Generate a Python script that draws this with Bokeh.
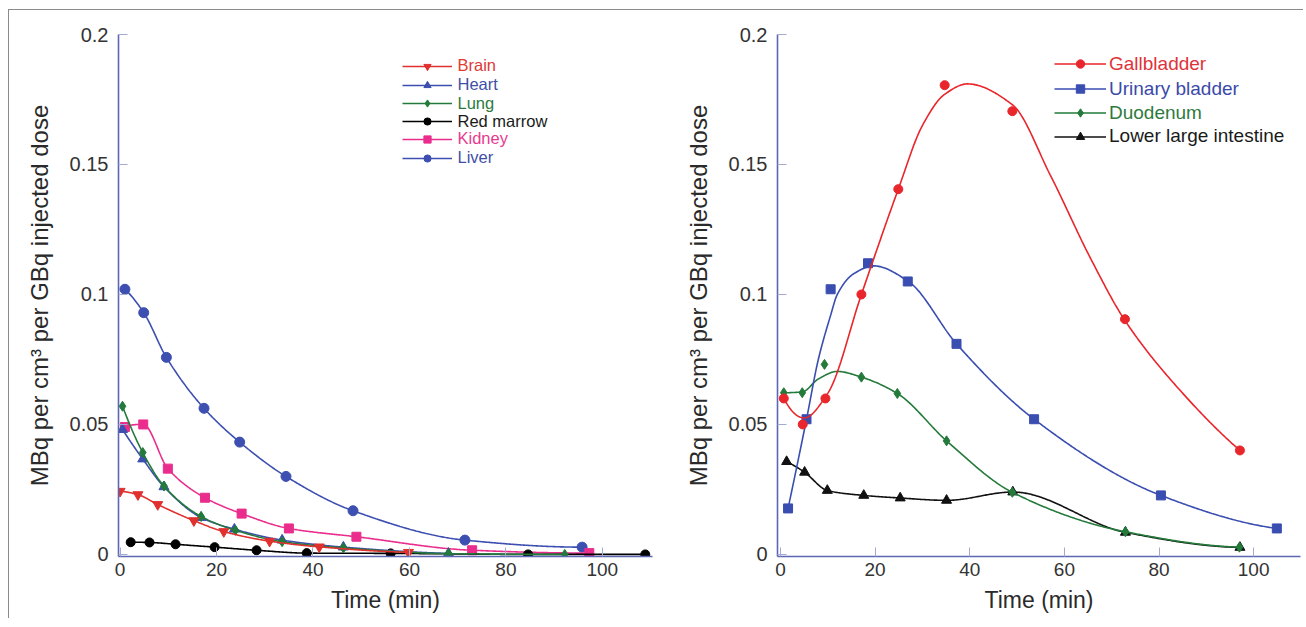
import numpy as np
from bokeh.plotting import figure
from bokeh.models import Range1d, FixedTicker, Legend, LegendItem
from bokeh.layouts import row
from bokeh.embed import file_html
from bokeh.resources import INLINE

# ---------------- data: left panel ----------------
brain_t = [0.0, 3.7, 7.8, 15.3, 21.5, 31.0, 41.3, 59.8]
brain_v = [0.0243, 0.0230, 0.0192, 0.0130, 0.0088, 0.0051, 0.0029, 0.0008]
heart_t = [0.5, 4.7, 9.1, 16.8, 23.7, 33.6, 46.3, 68.1]
heart_v = [0.0480, 0.0367, 0.0260, 0.0142, 0.0097, 0.0055, 0.0028, 0.0004]
lung_t = [0.5, 4.7, 9.1, 16.8, 23.9, 33.6, 46.3, 68.1, 92.2]
lung_v = [0.0570, 0.0392, 0.0263, 0.0146, 0.0093, 0.0049, 0.0025, 0.0003, 0.0]
marrow_t = [2.2, 6.1, 11.5, 19.6, 28.3, 38.7, 56.1, 84.6, 108.9]
marrow_v = [0.0047, 0.0046, 0.0039, 0.0028, 0.0016, 0.0005, 0.0004, 0.0, 0.0]
kidney_t = [1.0, 4.8, 9.9, 17.6, 25.2, 35.0, 49.0, 73.0, 97.3]
kidney_v = [0.0490, 0.0500, 0.0330, 0.0218, 0.0157, 0.0100, 0.0068, 0.0016, 0.0005]
liver_t = [1.0, 4.9, 9.6, 17.4, 24.8, 34.4, 48.3, 71.5, 95.8]
liver_v = [0.1020, 0.0930, 0.0758, 0.0562, 0.0432, 0.0300, 0.0168, 0.0055, 0.0028]

# ---------------- data: right panel ----------------
gall_t = [0.7, 4.7, 9.5, 17.1, 24.9, 34.7, 49.0, 72.8, 97.1]
gall_v = [0.060, 0.050, 0.060, 0.100, 0.1405, 0.1805, 0.1705, 0.0905, 0.040]
urin_t = [1.6, 5.5, 10.6, 18.5, 26.9, 37.2, 53.6, 80.4, 104.9]
urin_v = [0.0177, 0.052, 0.102, 0.112, 0.105, 0.081, 0.052, 0.0227, 0.010]
duod_t = [0.7, 4.6, 9.3, 17.1, 24.7, 35.1, 49.0, 72.9, 97.0]
duod_v = [0.0622, 0.0622, 0.0731, 0.0682, 0.0619, 0.0437, 0.0239, 0.0087, 0.0028]
lli_t = [1.3, 5.1, 9.9, 17.6, 25.3, 35.1, 49.1, 72.9, 97.1]
lli_v = [0.0357, 0.0316, 0.0246, 0.0227, 0.0217, 0.0208, 0.0240, 0.0085, 0.0027]

# fitted (smoothed) curves
gall_fit_t = [0.7, 5.0, 10.0, 17.1, 24.9, 30.0, 34.7, 39.5, 49.0, 57.0, 65.5, 72.8, 85.0, 97.1]
gall_fit_v = [0.060, 0.0525, 0.062, 0.100, 0.1405, 0.165, 0.177, 0.181, 0.173, 0.146, 0.114, 0.090, 0.062, 0.040]
urin_fit_t = [1.6, 5.5, 8.0, 10.6, 12.0, 15.5, 19.7, 26.9, 37.2, 53.6, 80.4, 104.9]
urin_fit_v = [0.0177, 0.052, 0.075, 0.092, 0.100, 0.108, 0.111, 0.1052, 0.081, 0.052, 0.0227, 0.010]
duod_fit_t = [0.7, 4.6, 8.0, 12.0, 17.1, 24.7, 35.1, 49.0, 72.9, 97.0]
duod_fit_v = [0.0622, 0.0625, 0.0675, 0.0704, 0.0682, 0.0619, 0.0437, 0.0239, 0.0087, 0.0028]

x_ticks = [0, 20, 40, 60, 80, 100]
y_ticks = [0, 0.05, 0.1, 0.15, 0.2]
y_tick_labels = ["0", "0.05", "0.1", "0.15", "0.2"]

FONT = "Liberation Sans"


def pchip(xs, ys, n=400):
    x = np.asarray(xs, float)
    y = np.asarray(ys, float)
    h = np.diff(x)
    d = np.diff(y) / h
    m = np.zeros_like(x)
    for k in range(1, len(x) - 1):
        if d[k - 1] * d[k] > 0:
            w1 = 2 * h[k] + h[k - 1]
            w2 = h[k] + 2 * h[k - 1]
            m[k] = (w1 + w2) / (w1 / d[k - 1] + w2 / d[k])

    def end(h0, h1, d0, d1):
        s = ((2 * h0 + h1) * d0 - h0 * d1) / (h0 + h1)
        if np.sign(s) != np.sign(d0):
            s = 0.0
        elif np.sign(d0) != np.sign(d1) and abs(s) > 3 * abs(d0):
            s = 3 * d0
        return s

    m[0] = end(h[0], h[1], d[0], d[1])
    m[-1] = end(h[-1], h[-2], d[-1], d[-2])
    xx = np.linspace(x[0], x[-1], n)
    idx = np.clip(np.searchsorted(x, xx) - 1, 0, len(x) - 2)
    t = (xx - x[idx]) / h[idx]
    h00 = 2 * t**3 - 3 * t**2 + 1
    h10 = t**3 - 2 * t**2 + t
    h01 = -2 * t**3 + 3 * t**2
    h11 = t**3 - t**2
    yy = h00 * y[idx] + h10 * h[idx] * m[idx] + h01 * y[idx + 1] + h11 * h[idx] * m[idx + 1]
    return xx, yy


def make_fig(xr, frame_w, bl, br):
    p = figure(frame_width=frame_w, frame_height=522,
               x_range=Range1d(*xr), y_range=Range1d(-0.0008, 0.2),
               output_backend="svg", toolbar_location=None,
               min_border_left=bl, min_border_right=br,
               min_border_top=24, min_border_bottom=62)
    p.outline_line_color = None
    p.grid.visible = False
    p.background_fill_color = "white"
    p.border_fill_color = "white"
    for ax in (p.xaxis[0], p.yaxis[0]):
        ax.axis_line_color = "#5c66b5"
        ax.axis_line_width = 1.6
        ax.major_tick_in = 9
        ax.major_tick_out = 0
        ax.major_tick_line_color = "#a3a9d0"
        ax.minor_tick_line_color = None
        ax.major_label_text_font = FONT
        ax.major_label_text_color = "#333333"
        ax.axis_label_text_font = FONT
        ax.axis_label_text_font_style = "normal"
        ax.axis_label_text_color = "#2a2a2a"
    p.xaxis.ticker = FixedTicker(ticks=x_ticks)
    p.yaxis.ticker = FixedTicker(ticks=y_ticks)
    p.yaxis.major_label_overrides = {v: s for v, s in zip(y_ticks, y_tick_labels)}
    p.xaxis.major_label_text_font_size = "19px"
    p.yaxis.major_label_text_font_size = "20px"
    p.xaxis.major_label_standoff = 6
    p.yaxis.major_label_standoff = 10
    p.xaxis.axis_label = "Time (min)"
    p.yaxis.axis_label = "MBq per cm³ per GBq injected dose"
    p.xaxis.axis_label_text_font_size = "23px"
    p.yaxis.axis_label_text_font_size = "24px"
    p.xaxis.axis_label_standoff = 8
    p.yaxis.axis_label_standoff = 14
    return p


def add_series(p, t, v, ct, cv, color, marker, size, label, text_color, loc, gw,
               standoff, fsize, gh):
    xx, yy = pchip(ct, cv)
    lr = p.line(xx, yy, line_color=color, line_width=1.6)
    sr = p.scatter(t, v, marker=marker, size=size, fill_color=color, line_color=color)
    leg = Legend(items=[LegendItem(label=label, renderers=[lr, sr])],
                 location=loc, orientation="vertical",
                 border_line_color=None, background_fill_alpha=0,
                 padding=0, margin=0, spacing=0,
                 glyph_width=gw, glyph_height=gh, label_height=gh,
                 label_standoff=standoff,
                 label_text_font=FONT, label_text_font_size=fsize,
                 label_text_color=text_color)
    p.add_layout(leg)
    return lr, sr


FB = 556  # frame bottom (page px)

# ---------------- left figure ----------------
p1 = make_fig((-0.33, 110.4), 534, 109, 10)
left_rows = [66, 85, 103.7, 121.7, 139.3, 158.3]
lx = 283.5
left_specs = [
    (liver_t, liver_v, "#3d4fb0", "circle", 10, "Liver", "#3f4fa8", 5),
    (kidney_t, kidney_v, "#ea2d8c", "square", 9, "Kidney", "#e83a90", 4),
    (marrow_t, marrow_v, "#000000", "circle", 9, "Red marrow", "#1a1a1a", 3),
    (heart_t, heart_v, "#3d4fae", "triangle", 10, "Heart", "#3f4fa8", 1),
    (lung_t, lung_v, "#237a3a", "diamond", 10, "Lung", "#2e7a3e", 2),
    (brain_t, brain_v, "#e0312e", "inverted_triangle", 10, "Brain", "#e03a33", 0),
]
for t, v, c, mk, sz, lab, tc, ri in left_specs:
    loc = (lx, FB - left_rows[ri] - 9)
    add_series(p1, t, v, t, v, c, mk, sz, lab, tc, loc, 50, 6, "16.5px", 18)

# ---------------- right figure ----------------
p2 = make_fig((-0.63, 109.9), 523, 115, 3)
right_rows = [64, 89.3, 113.3, 136.7]
rx = 277
right_specs = [
    (lli_t, lli_v, lli_t, lli_v, "#111111", "triangle", 10, "Lower large intestine", "#1a1a1a", 3),
    (duod_t, duod_v, duod_fit_t, duod_fit_v, "#237a3a", "diamond", 10, "Duodenum", "#2e7a3e", 2),
    (urin_t, urin_v, urin_fit_t, urin_fit_v, "#3a4db0", "square", 9, "Urinary bladder", "#3b4aa8", 1),
    (gall_t, gall_v, gall_fit_t, gall_fit_v, "#e8262b", "circle", 9, "Gallbladder", "#e0323a", 0),
]
for t, v, ct, cv, c, mk, sz, lab, tc, ri in right_specs:
    loc = (rx, FB - right_rows[ri] - 10.5)
    add_series(p2, t, v, ct, cv, c, mk, sz, lab, tc, loc, 52, 3, "19px", 21)

layout = row(p1, p2, styles={"border-top": "1px solid #8a8a8a",
                             "border-left": "1px solid #8a8a8a",
                             "margin-top": "9px", "margin-left": "8px"})

open("out.html", "w").write(file_html(layout, INLINE))
